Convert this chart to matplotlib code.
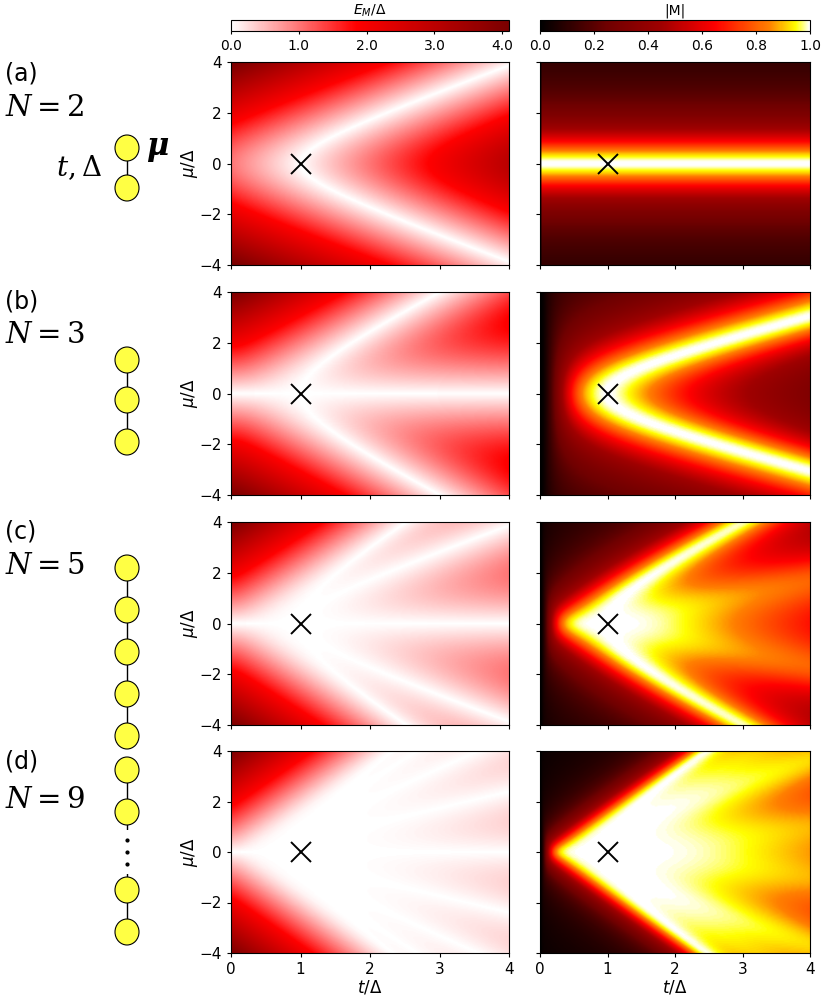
import matplotlib
matplotlib.use("Agg")
import matplotlib.pyplot as plt
import numpy as np
from matplotlib.colors import LinearSegmentedColormap
from matplotlib.patches import Ellipse

# model parameters of the four chains (Kitaev chain, BdG)
chain_sizes = [2, 3, 5, 9]
panel_labels = ["(a)", "(b)", "(c)", "(d)"]
t_range = [0, 4]
mu_range = [-4, 4]
sweet_spot = (1, 0)
e_ticks = [0.0, 1.0, 2.0, 3.0, 4.0]
m_ticks = [0.0, 0.2, 0.4, 0.6, 0.8, 1.0]
n_grid = 200

t_vals = np.linspace(t_range[0], t_range[1], n_grid)
mu_vals = np.linspace(mu_range[0], mu_range[1], n_grid)
TT, MM = np.meshgrid(t_vals, mu_vals)


def kitaev(N, delta=1.0):
    tt = TT.ravel()[:, None, None]
    mm = MM.ravel()[:, None, None]
    hop = np.diag(np.ones(N - 1), 1) + np.diag(np.ones(N - 1), -1)
    pair = np.diag(np.ones(N - 1), 1) - np.diag(np.ones(N - 1), -1)
    h = -mm * np.eye(N) - tt * hop
    d = delta * pair * np.ones_like(tt)
    H = np.block([[h, d], [-d, -h]])
    w, v = np.linalg.eigh(H)
    E = w[:, N]
    psi = v[:, :, N]
    u, vv = psi[:, :N], psi[:, N:]
    wt = np.zeros(N)
    wt[: N // 2] = 1
    num = np.sum(wt * 2 * u * vv, axis=1)
    den = np.sum(wt * (u ** 2 + vv ** 2), axis=1)
    M = (np.abs(num) / den) ** 1.5
    return E.reshape(TT.shape), M.reshape(TT.shape)


cmap_e = LinearSegmentedColormap.from_list(
    "e", [(0, "#ffffff"), (0.45, "#ff0000"), (1.0, "#7a0000")])
cmap_m = LinearSegmentedColormap.from_list(
    "m", [(0, "#000000"), (0.25, "#700000"), (0.45, "#a00000"), (0.65, "#ff0000"),
          (0.85, "#ff8000"), (0.95, "#ffff00"), (1.0, "#ffffff")])

fig = plt.figure(figsize=(8.23, 10), dpi=100)
W, Hf = 823, 1000


def ax_px(x0, y0, x1, y1):
    return fig.add_axes([x0 / W, 1 - y1 / Hf, (x1 - x0) / W, (y1 - y0) / Hf])


rows = [(62, 265), (292, 495), (522, 725), (751, 953)]
cols = [(231, 509), (540, 810)]

for i, N in enumerate(chain_sizes):
    E, M = kitaev(N)
    y0, y1 = rows[i]
    for j, (data, cmap, vmax) in enumerate([(E, cmap_e, 4.1), (M, cmap_m, 1.0)]):
        ax = ax_px(cols[j][0], y0, cols[j][1], y1)
        im = ax.imshow(data, origin="lower", extent=t_range + mu_range, aspect="auto",
                       cmap=cmap, vmin=0, vmax=vmax, interpolation="bilinear")
        ax.plot(*sweet_spot, marker="x", color="black", ms=14, mew=1.4)
        ax.set_xticks([0, 1, 2, 3, 4])
        ax.set_yticks([-4, -2, 0, 2, 4])
        ax.tick_params(labelsize=11, direction="out", length=3)
        if j == 0:
            ax.set_ylabel(r"$\mu/\Delta$", fontsize=12, labelpad=0)
        else:
            ax.set_yticklabels([])
        if i == 3:
            ax.set_xlabel(r"$t/\Delta$", fontsize=12, labelpad=1)
        else:
            ax.set_xticklabels([])
        if i == 0:
            cax = ax_px(cols[j][0], 20, cols[j][1], 31)
            cb = fig.colorbar(im, cax=cax, orientation="horizontal")
            cb.set_ticks(e_ticks if j == 0 else m_ticks)
            cb.ax.set_xticklabels(["%.1f" % v for v in (e_ticks if j == 0 else m_ticks)])
            cb.ax.tick_params(labelsize=10, length=2)
            cb.set_label(r"$E_M/\Delta$" if j == 0 else "|M|", fontsize=10)
            cb.ax.xaxis.set_label_position("top")

# left: chain sketches
ov = fig.add_axes([0, 0, 1, 1])
ov.set_xlim(0, W)
ov.set_ylim(Hf, 0)
ov.axis("off")
label_y = [(73, 108), (302, 335), (532, 566), (762, 800)]
dots = {2: [148, 188], 3: [360, 400, 442], 5: [568, 610, 652, 694, 736],
        9: [770, 812, 890, 932]}
for i, N in enumerate(chain_sizes):
    ly, ny = label_y[i]
    ov.text(5, ly, panel_labels[i], fontsize=17, va="center")
    ov.text(5, ny, r"$N=%d$" % N, fontsize=21, va="center", family="serif",
            math_fontfamily="dejavuserif")
    ys = dots[N]
    x = 127
    ov.plot([x, x], [ys[0], ys[-1]], color="black", lw=1, zorder=1)
    for y in ys:
        ov.add_patch(Ellipse((x, y), 24, 26, fc="#ffff44", ec="black", lw=0.8, zorder=2))
    if N == 9:
        ov.add_patch(plt.Rectangle((x - 4, 830), 8, 44, fc="white", ec="none", zorder=1.5))
        for y in [840, 852, 864]:
            ov.plot(x, y, "o", color="black", ms=2)
ov.text(102, 168, r"$t,\Delta$", fontsize=20, va="center", ha="right",
        math_fontfamily="dejavuserif")
ov.text(146, 150, r"$\boldsymbol{\mu}$", fontsize=22, va="center",
        math_fontfamily="dejavuserif")

fig.savefig("out.png", dpi=100)
